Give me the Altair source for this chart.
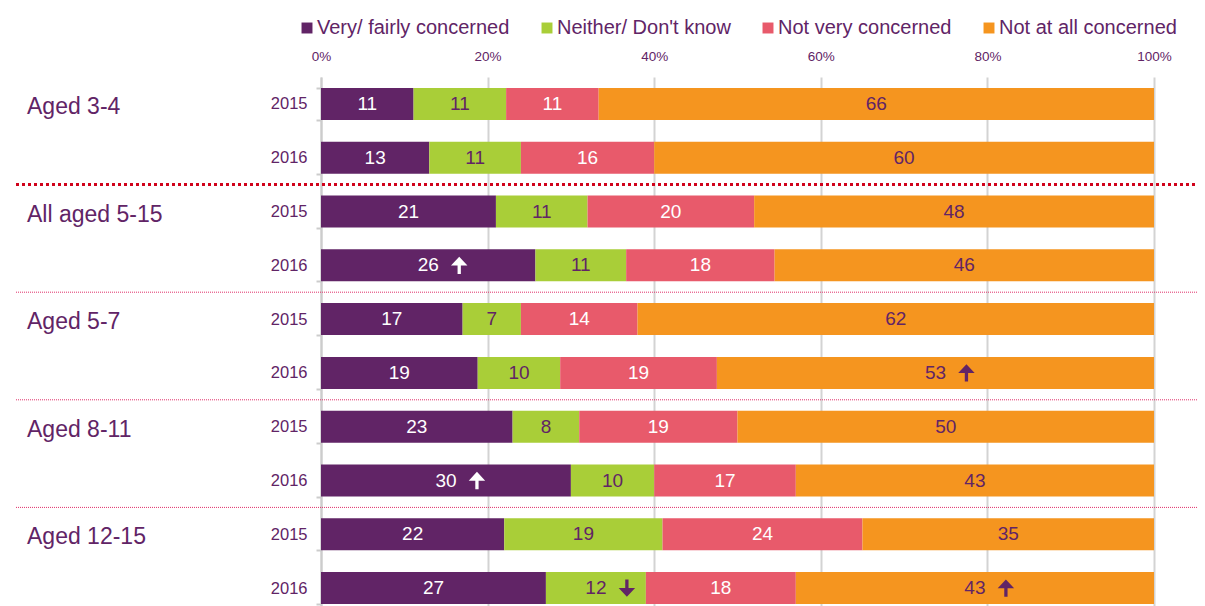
import altair as alt
import pandas as pd

groups = ["Aged 3-4", "All aged 5-15", "Aged 5-7", "Aged 8-11", "Aged 12-15"]
years = ["2015", "2016"]
categories = ["Very/ fairly concerned", "Neither/ Don't know", "Not very concerned", "Not at all concerned"]
colors = ["#612466", "#A9CE38", "#E85A6B", "#F5951F"]

very = [11, 13, 21, 26, 17, 19, 23, 30, 22, 27]
neither = [11, 11, 11, 11, 7, 10, 8, 10, 19, 12]
notvery = [11, 16, 20, 18, 14, 19, 19, 17, 24, 18]
notatall = [66, 60, 48, 46, 62, 53, 50, 43, 35, 43]

# significance arrows: (row index, category index, direction)
arrows = [(3, 0, "up"), (5, 3, "up"), (7, 0, "up"), (9, 1, "down"), (9, 3, "up")]

PURPLE = "#612466"
FONT = "Liberation Sans"

row_ids = [f"{g}|{y}" for g in groups for y in years]
series = [very, neither, notvery, notatall]
arrow_map = {(r, c): a for r, c, a in arrows}

recs = []
for i, rid in enumerate(row_ids):
    for c, cat in enumerate(categories):
        recs.append({"row": rid, "cat": cat, "order": c, "value": series[c][i],
                     "arrow": arrow_map.get((i, c), "")})
df = pd.DataFrame(recs)

W, H = 833, 538
STEP = H / len(row_ids)

UP = "M0,-1L0.95,0.02L0.19,0.02L0.19,1L-0.19,1L-0.19,0.02L-0.95,0.02Z"
DOWN = "M0,1L0.95,-0.02L0.19,-0.02L0.19,-1L-0.19,-1L-0.19,-0.02L-0.95,-0.02Z"

y_enc = alt.Y("row:N", sort=row_ids,
              scale=alt.Scale(paddingInner=0.405, paddingOuter=0.2025),
              axis=alt.Axis(title=None, labelExpr="split(datum.label, '|')[1]",
                            labelColor=PURPLE, labelFont=FONT, labelFontSize=16.5,
                            labelPadding=9, domainColor="#cccccc", domainWidth=2,
                            tickColor="#cccccc", tickWidth=2, tickSize=5,
                            tickBand="extent", grid=False))

base = alt.Chart(df).transform_joinaggregate(
    total="sum(value)", groupby=["row"]
).transform_window(
    cum="sum(value)", sort=[alt.SortField("order", order="ascending")],
    groupby=["row"], frame=[None, 0]
).transform_calculate(
    x1="(datum.cum - datum.value) / datum.total",
    x2="datum.cum / datum.total",
    mid="(2 * datum.cum - datum.value) / (2 * datum.total)"
)

bars = base.mark_bar(size=32).encode(
    x=alt.X("x1:Q", scale=alt.Scale(domain=[0, 1], nice=False),
            axis=alt.Axis(orient="top", format=".0%", values=[0, 0.2, 0.4, 0.6, 0.8, 1.0],
                          title=None, labelColor=PURPLE, labelFont=FONT, labelFontSize=13.5,
                          labelPadding=14, labelFlush=False, ticks=False, domain=False,
                          grid=True, gridColor="#d3d3d3", gridWidth=2)),
    x2="x2:Q",
    y=y_enc,
    color=alt.Color("cat:N", sort=categories,
                    scale=alt.Scale(domain=categories, range=colors),
                    legend=alt.Legend(title=None, orient="none", legendX=-24, legendY=-59,
                                      direction="horizontal", symbolType="square",
                                      symbolSize=120, symbolStrokeWidth=0, symbolOpacity=1,
                                      labelFont=FONT, labelFontSize=20, labelColor=PURPLE,
                                      labelLimit=400, labelOffset=0, columnPadding=27)),
)

white_cond = "datum.cat == 'Very/ fairly concerned' || datum.cat == 'Not very concerned'"

labels = base.mark_text(font=FONT, fontSize=19, baseline="middle", align="center").encode(
    x="mid:Q",
    y=alt.Y("row:N", sort=row_ids),
    text="value:Q",
    color=alt.condition(white_cond, alt.value("white"), alt.value(PURPLE)),
)

arrow_pts = base.transform_filter("datum.arrow != ''").mark_point(
    filled=True, size=300, opacity=1, strokeWidth=0, xOffset=31
).encode(
    x="mid:Q",
    y=alt.Y("row:N", sort=row_ids),
    shape=alt.Shape("arrow:N", scale=alt.Scale(domain=["up", "down"], range=[UP, DOWN]),
                    legend=None),
    fill=alt.condition(white_cond, alt.value("white"), alt.value(PURPLE)),
)

grp_df = pd.DataFrame({"row": [f"{g}|2015" for g in groups], "label": groups})
grp_labels = alt.Chart(grp_df).mark_text(
    font=FONT, fontSize=23, align="left", baseline="middle", dy=3, color=PURPLE
).encode(
    x=alt.value(-294),
    y=alt.Y("row:N", sort=row_ids),
    text="label:N",
)

sep_major = pd.DataFrame({"row": [f"{groups[0]}|2016"]})
sep_minor = pd.DataFrame({"row": [f"{g}|2016" for g in groups[1:4]]})

rule_major = alt.Chart(sep_major).mark_rule(
    color="#d0021b", strokeWidth=3, strokeDash=[3, 3], yOffset=STEP / 2
).encode(x=alt.value(-305), x2=alt.value(884), y=alt.Y("row:N", sort=row_ids))

rule_minor = alt.Chart(sep_minor).mark_rule(
    color="#e0306a", strokeWidth=1, strokeDash=[1, 1], yOffset=STEP / 2
).encode(x=alt.value(-305), x2=alt.value(884), y=alt.Y("row:N", sort=row_ids))

chart = alt.layer(bars, labels, arrow_pts, grp_labels, rule_major, rule_minor).properties(
    width=W, height=H,
    autosize=alt.AutoSizeParams(type="none"),
    padding={"left": 313, "top": 69, "right": 43, "bottom": 0},
).configure_view(stroke=None)

chart.save("out.html", embed_options={"renderer": "svg", "actions": False})
